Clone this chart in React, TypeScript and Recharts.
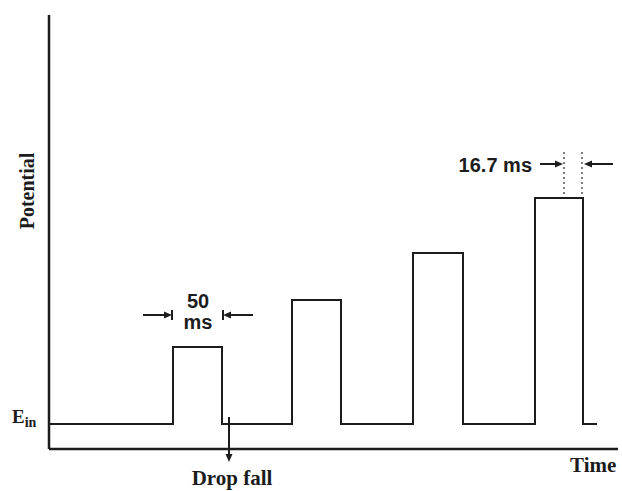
import React from "react";
import { LineChart, Line, XAxis, YAxis, ReferenceLine, ReferenceDot } from "recharts";

// time axis in ms-ish units, potential in arbitrary units
const T_MAX = 569;
const V_MAX = 434;
const T_END = 548;
const E_IN = 25;
const PULSE_ON = [124, 243, 364, 486];
const PULSE_OFF = [173, 292, 414, 534];
const PULSE_LEVEL = [102, 149, 196, 251];

// annotations: [x, y] in data coordinates
const WIDTH_ARROWS = [
  { from: [94, 134], to: [123, 134], bar: true },
  { from: [204, 134], to: [174, 134], bar: true },
  { from: [491, 285], to: [514, 285], bar: false },
  { from: [564, 285], to: [535, 285], bar: false },
  { from: [180, 32], to: [180, -13], bar: false },
];
const DOTTED_X = [515, 533];
const DOTTED_Y = [297, 255];

const LABELS = [
  { x: 149, y: 141, text: "50", font: "sans", anchor: "middle" },
  { x: 149, y: 120, text: "ms", font: "sans", anchor: "middle" },
  { x: 483, y: 277, text: "16.7 ms", font: "sans", anchor: "end" },
  { x: 183, y: -36, text: "Drop fall", font: "serif", anchor: "middle" },
  { x: 521, y: -23, text: "Time", font: "serif", anchor: "start" },
];
const POTENTIAL_POS = [-22, 258];
const EIN_POS = [-37, 26];

const data: { t: number; v: number }[] = [{ t: 0, v: E_IN }];
PULSE_ON.forEach((on, i) => {
  data.push({ t: on, v: E_IN });
  data.push({ t: on, v: PULSE_LEVEL[i] });
  data.push({ t: PULSE_OFF[i], v: PULSE_LEVEL[i] });
  data.push({ t: PULSE_OFF[i], v: E_IN });
});
data.push({ t: T_END, v: E_IN });

const INK = "#1c1c1c";
const SERIF = "'Liberation Serif', 'Times New Roman', serif";
const SANS = "'Liberation Sans', Arial, sans-serif";

const arrowShape = (bar: boolean) => (p: any) => {
  const { x1, y1, x2, y2 } = p;
  const dx = x2 - x1;
  const dy = y2 - y1;
  const len = Math.hypot(dx, dy) || 1;
  const ux = dx / len;
  const uy = dy / len;
  const hl = 8;
  const hw = 3.5;
  const bx = x2 - ux * hl;
  const by = y2 - uy * hl;
  const pts = `${x2},${y2} ${bx - uy * hw},${by + ux * hw} ${bx + uy * hw},${by - ux * hw}`;
  return (
    <g>
      <line x1={x1} y1={y1} x2={bx} y2={by} stroke={INK} strokeWidth={2} />
      <polygon points={pts} fill={INK} />
      {bar && <line x1={x2} y1={y2 - 5} x2={x2} y2={y2 + 5} stroke={INK} strokeWidth={2} />}
    </g>
  );
};

export default function App() {
  return (
    <div style={{ position: "absolute", left: 0, top: 0, background: "#fff" }}>
      <LineChart
        width={622}
        height={491}
        data={data}
        margin={{ top: 15, right: 4, bottom: 42, left: 49 }}
      >
        <XAxis dataKey="t" type="number" domain={[0, T_MAX]} allowDataOverflow hide />
        <YAxis type="number" domain={[0, V_MAX]} allowDataOverflow hide />
        {/* axis lines */}
        <ReferenceLine
          segment={[{ x: 0, y: 0 }, { x: T_MAX, y: 0 }]}
          stroke={INK}
          strokeWidth={2.5}
          ifOverflow="visible"
        />
        <ReferenceLine
          segment={[{ x: 0, y: 0 }, { x: 0, y: V_MAX }]}
          stroke={INK}
          strokeWidth={2.5}
          ifOverflow="visible"
        />
        <Line
          type="linear"
          dataKey="v"
          stroke={INK}
          strokeWidth={2}
          dot={false}
          isAnimationActive={false}
        />
        {DOTTED_X.map((x) => (
          <ReferenceLine
            key={`d${x}`}
            segment={[{ x, y: DOTTED_Y[0] }, { x, y: DOTTED_Y[1] }]}
            stroke="#555"
            strokeWidth={1.5}
            strokeDasharray="2 3"
            ifOverflow="visible"
          />
        ))}
        {WIDTH_ARROWS.map((a, i) => (
          <ReferenceLine
            key={`a${i}`}
            segment={[{ x: a.from[0], y: a.from[1] }, { x: a.to[0], y: a.to[1] }]}
            ifOverflow="visible"
            shape={arrowShape(a.bar)}
          />
        ))}
        {LABELS.map((l, i) => (
          <ReferenceDot
            key={`l${i}`}
            x={l.x}
            y={l.y}
            r={0}
            ifOverflow="visible"
            shape={(p: any) => (
              <text
                x={p.cx}
                y={p.cy}
                textAnchor={l.anchor as any}
                fontFamily={l.font === "serif" ? SERIF : SANS}
                fontWeight="bold"
                fontSize={l.font === "serif" ? 21 : 20}
                fill={INK}
              >
                {l.text}
              </text>
            )}
          />
        ))}
        <ReferenceDot
          x={POTENTIAL_POS[0]}
          y={POTENTIAL_POS[1]}
          r={0}
          ifOverflow="visible"
          shape={(p: any) => (
            <text
              x={p.cx}
              y={p.cy}
              transform={`rotate(-90 ${p.cx} ${p.cy})`}
              textAnchor="middle"
              dominantBaseline="central"
              fontFamily={SERIF}
              fontWeight="bold"
              fontSize={20}
              fill={INK}
            >
              Potential
            </text>
          )}
        />
        <ReferenceDot
          x={EIN_POS[0]}
          y={EIN_POS[1]}
          r={0}
          ifOverflow="visible"
          shape={(p: any) => (
            <text x={p.cx} y={p.cy} fontFamily={SERIF} fontWeight="bold" fontSize={19} fill={INK}>
              E
              <tspan fontSize={14} dy={4}>
                in
              </tspan>
            </text>
          )}
        />
      </LineChart>
    </div>
  );
}
